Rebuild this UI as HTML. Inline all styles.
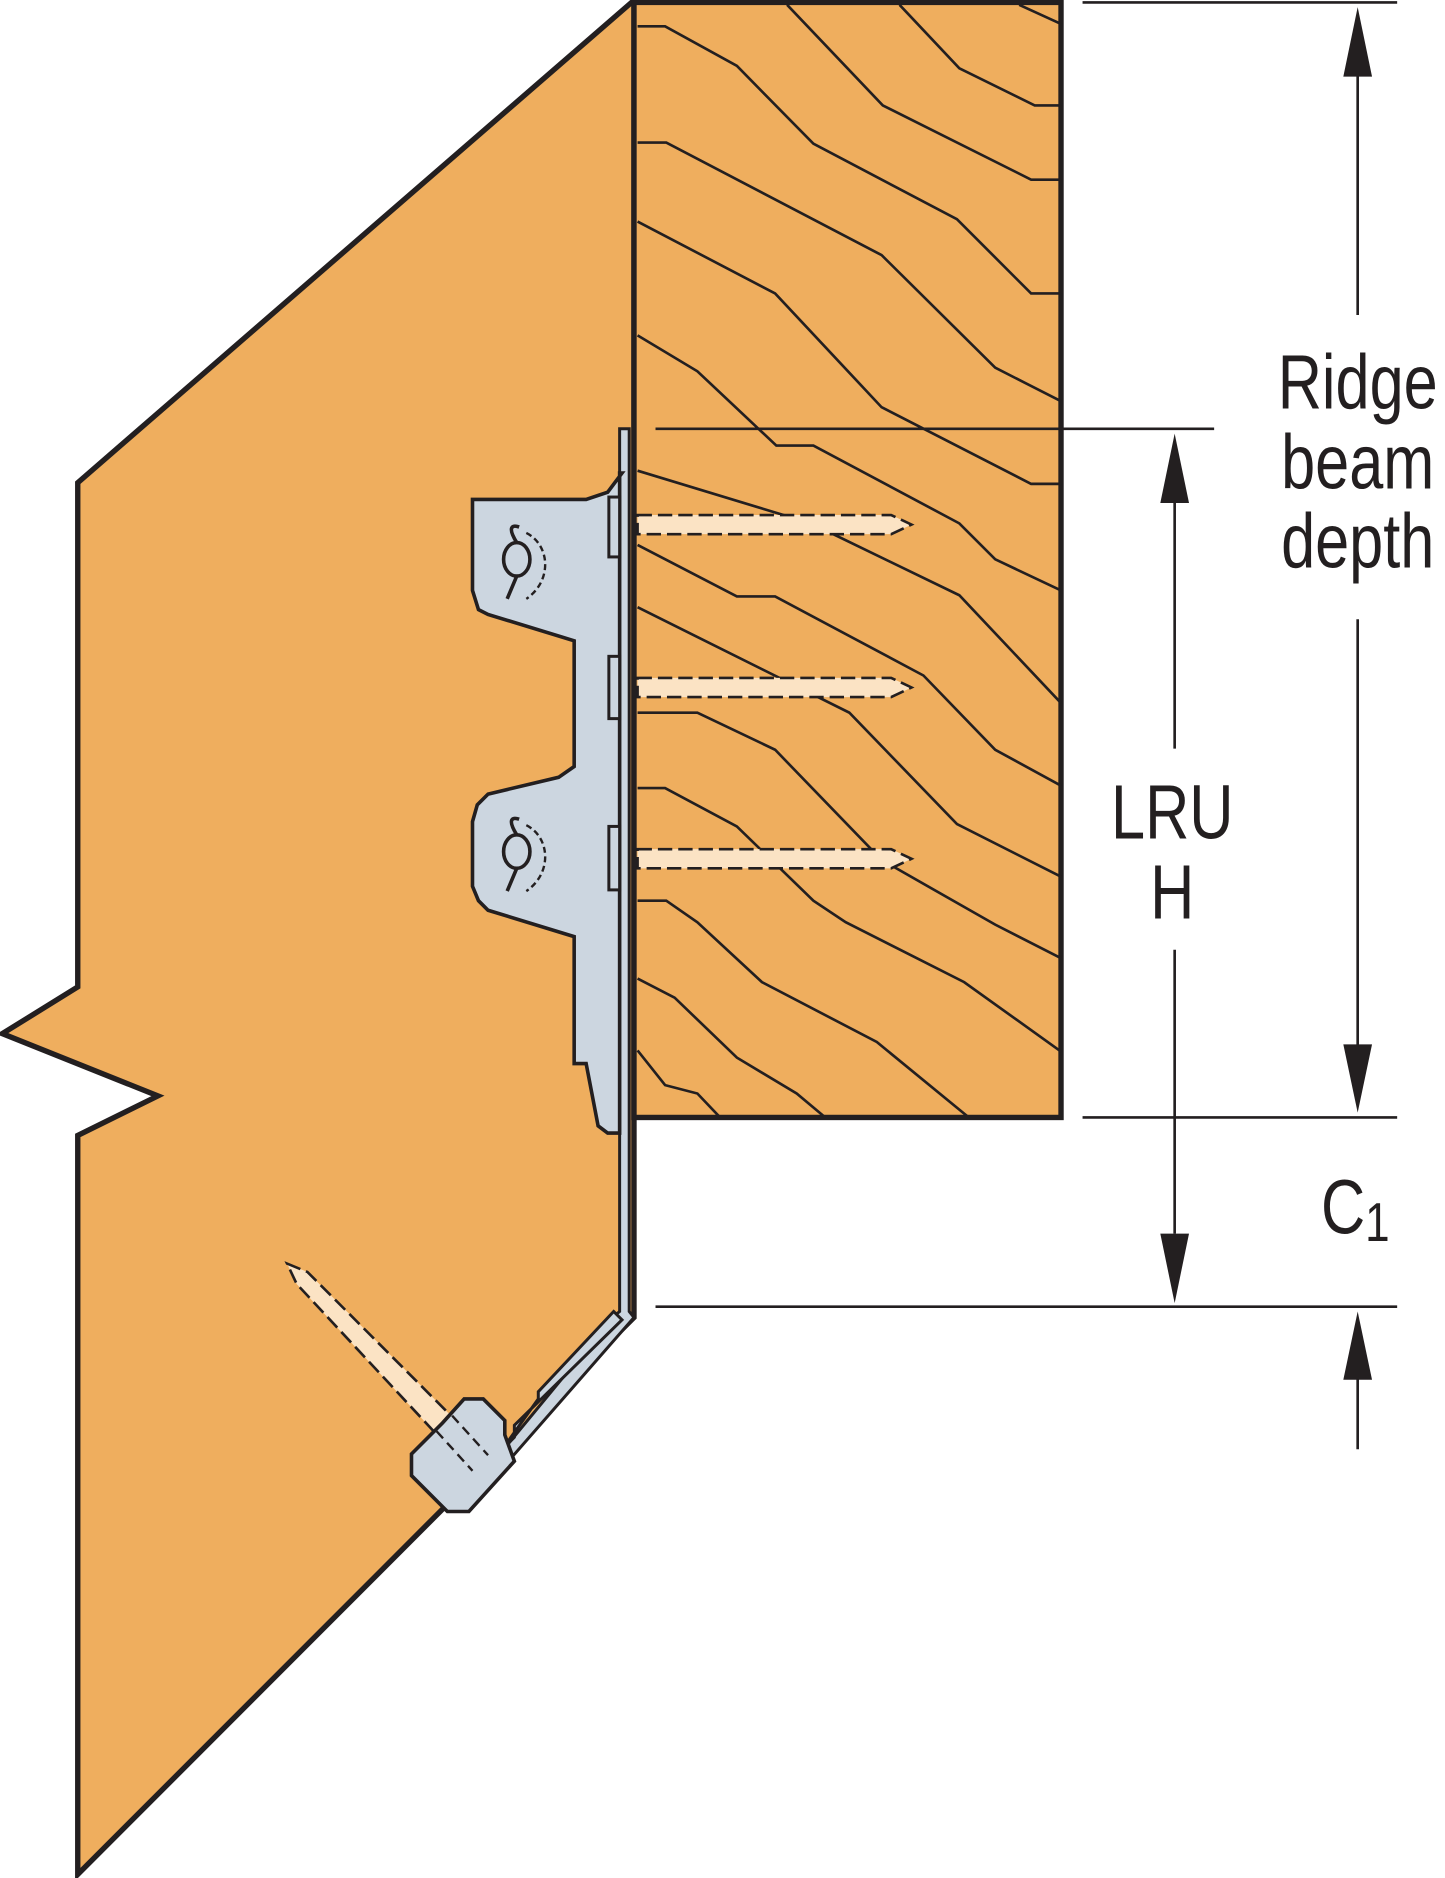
<!DOCTYPE html>
<html><head><meta charset="utf-8"><style>
html,body{margin:0;padding:0;background:#fff;}
svg{display:block;}
text{font-family:"Liberation Sans",sans-serif;fill:#231f20;}
</style></head><body>
<svg width="1445" height="1878" viewBox="0 0 1208 1568" preserveAspectRatio="none" xmlns="http://www.w3.org/2000/svg">
<!-- rafter -->
<polygon points="528,2 65,403 65,824 2,863 132,915 65,948 65,1565 530,1100 530,2" fill="#EFAE5E" stroke="#231f20" stroke-width="4.5" stroke-linejoin="miter"/>
<!-- beam -->
<rect x="530" y="2" width="357" height="931" fill="#EFAE5E" stroke="#231f20" stroke-width="4.5"/>
<g fill="none" stroke="#231f20" stroke-width="2.2">
<polyline points="533,22 556,22 616,55 680,120 800,183 862,245 887,245"/>
<polyline points="658,4 738,88 862,150 887,150"/>
<polyline points="752,4 802,57 865,88 887,88"/>
<polyline points="852,4 887,20"/>
<polyline points="533,119 557,119 737,213 832,307 887,335"/>
<polyline points="533,185 648,245 737,340 862,404 887,404"/>
<polyline points="533,280 583,310 649,372 680,372 802,437 832,467 887,493"/>
<polyline points="533,393 678,437 802,497 887,587"/>
<polyline points="533,455 616,498 648,498 772,564 832,626 887,656"/>
<polyline points="533,507 710,595 800,688 887,732"/>
<polyline points="533,595 583,595 648,626 737,718 832,772 887,800"/>
<polyline points="533,658 556,658 616,690 680,752 707,770 806,820 887,878"/>
<polyline points="533,752 557,752 583,770 637,820 733,870 810,933"/>
<polyline points="533,817 564,833 616,883 666,913 690,933"/>
<polyline points="533,877 556,906 583,913 602,933"/>
</g>
<!-- screws into beam -->
<g fill="#FBE3C4" stroke="#231f20" stroke-width="2.2" stroke-dasharray="12,5">
<polygon points="533,430 745,430 762,438 745,446 533,446"/>
<polygon points="533,566 745,566 762,574 745,582 533,582"/>
<polygon points="533,709 745,709 762,717 745,725 533,725"/>
</g>
<!-- hanger -->
<polygon points="518,358 526,358 526,1095 530,1100 390,1260 384,1255 512,1100 518,1095" fill="#CCD6E0" stroke="#231f20" stroke-width="2.5"/>
<polygon points="520,395 508,411 490,417 395,417 395,493 400,509 408,513 480,535 480,640 467,649 408,663 399,672 395,686 395,740 400,752 408,760 480,782 480,888 490,888 500,940 508,946 518,946 518,395" fill="#CCD6E0" stroke="#231f20" stroke-width="3"/>
<g fill="#CCD6E0" stroke="#231f20" stroke-width="2.5">
<rect x="509" y="415" width="9" height="50"/><rect x="509" y="548" width="9" height="52"/><rect x="509" y="690" width="9" height="53"/>
</g>
<g fill="none" stroke="#231f20" stroke-width="3">
<ellipse cx="432" cy="467" rx="11" ry="14"/><path d="M432,453 C424,440 428,438 434,440 M432,481 L424,500"/>
<ellipse cx="432" cy="711" rx="11" ry="14"/><path d="M432,697 C424,684 428,682 434,684 M432,725 L424,744"/>
</g>
<g fill="none" stroke="#231f20" stroke-width="2" stroke-dasharray="5,3">
<path d="M440,445 C460,455 462,485 440,500"/><path d="M440,689 C460,699 462,729 440,744"/>
</g>
<!-- bottom diagonal tab and nail -->
<polygon points="240,1055 257,1062 400,1205 384,1218 248,1072" fill="#FBE3C4" stroke="#231f20" stroke-width="2.2" stroke-dasharray="12,5"/>
<polygon points="513,1095 520,1102 430,1190 430,1200 420,1210 450,1168 450,1162" fill="#CCD6E0" stroke="#231f20" stroke-width="2.5"/>
<polygon points="388,1168 404,1168 422,1186 422,1198 430,1220 392,1262 374,1262 344,1232 344,1214 370,1188" fill="#CCD6E0" stroke="#231f20" stroke-width="3"/>
<g stroke="#231f20" stroke-width="2" stroke-dasharray="8,5" fill="none">
<line x1="365" y1="1195" x2="395" y2="1228"/><line x1="378" y1="1182" x2="408" y2="1215"/>
</g>
<!-- dimension lines -->
<g stroke="#231f20" stroke-width="2.2">
<line x1="905" y1="2" x2="1168" y2="2"/>
<line x1="548" y1="358" x2="1015" y2="358"/>
<line x1="905" y1="933" x2="1168" y2="933"/>
<line x1="548" y1="1091" x2="1168" y2="1091"/>
<line x1="1135" y1="60" x2="1135" y2="263"/>
<line x1="1135" y1="517" x2="1135" y2="875"/>
<line x1="982" y1="418" x2="982" y2="625"/>
<line x1="982" y1="793" x2="982" y2="1030"/>
<line x1="1135" y1="1150" x2="1135" y2="1210"/>
</g>
<g fill="#231f20">
<polygon points="1135,6 1123,64 1147,64"/>
<polygon points="1135,929 1123,872 1147,872"/>
<polygon points="982,362 970,420 994,420"/>
<polygon points="982,1088 970,1030 994,1030"/>
<polygon points="1135,1095 1123,1152 1147,1152"/>
</g>
<g font-size="64" text-anchor="middle">
<text transform="translate(1135,341) scale(0.8,1)">Ridge</text>
<text transform="translate(1135,408) scale(0.8,1)">beam</text>
<text transform="translate(1135,474) scale(0.8,1)">depth</text>
<text transform="translate(980,700) scale(0.8,1)">LRU</text>
<text transform="translate(980,767) scale(0.8,1)">H</text>
<text transform="translate(1133,1030) scale(0.8,1)">C<tspan font-size="46" dy="6">1</tspan></text>
</g>
</svg>
</body></html>
